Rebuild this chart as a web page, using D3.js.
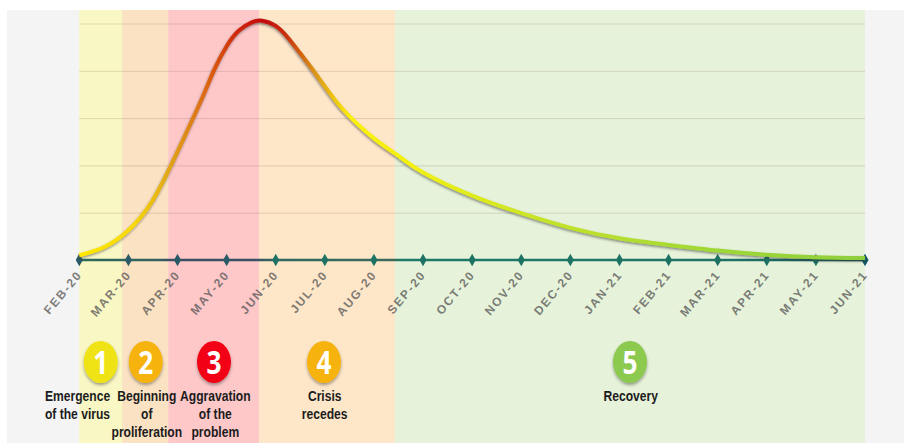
<!DOCTYPE html>
<html>
<head>
<meta charset="utf-8">
<script src="https://cdn.jsdelivr.net/npm/d3@7"></script>
<style>
body { margin: 0; background: #fff; }
svg { display: block; }
</style>
</head>
<body>
<svg id="drawing_region"></svg>
<script>
// data (month index, 0 = Feb-20)
const months = ["FEB-20","MAR-20","APR-20","MAY-20","JUN-20","JUL-20","AUG-20","SEP-20","OCT-20","NOV-20","DEC-20","JAN-21","FEB-21","MAR-21","APR-21","MAY-21","JUN-21"];
const gridValues = [1, 2, 3, 4, 5];
const curveMonth = [0, 0.5, 1, 1.5, 2, 2.5, 2.75, 3, 3.25, 3.5, 3.72, 4, 4.25, 4.5, 4.77, 5, 5.24, 5.5, 6, 6.5, 7, 8, 9, 10, 11, 12, 13, 14, 15, 16];
const curveValue = [0.1, 0.27, 0.63, 1.27, 2.29, 3.42, 4.03, 4.52, 4.85, 5.02, 5.06, 4.95, 4.7, 4.37, 4.0, 3.67, 3.34, 3.04, 2.57, 2.2, 1.85, 1.36, 0.99, 0.68, 0.46, 0.32, 0.2, 0.11, 0.06, 0.04];
const phaseStart = [0, 0.87, 1.81, 3.66, 6.43];
const phaseEnd = [0.87, 1.81, 3.66, 6.43, 16];
const phaseNumber = ["1", "2", "3", "4", "5"];
const phaseLabel = [
  ["Emergence", "of the virus"],
  ["Beginning", "of", "proliferation"],
  ["Aggravation", "of the", "problem"],
  ["Crisis", "recedes"],
  ["Recovery"]
];

// layout and styles
const width = 904, height = 443;
const margin = {top: 10, right: 39, bottom: 0, left: 79.3};
const baseY = 260, topGridY = 23.5;
const bandColor = ["#f9f7c4", "#fbe2c2", "#fec8c9", "#fee6c9", "#e6f2d9"];
const badgeColor = ["#efe312", "#f6b30f", "#f20012", "#f6b30f", "#8cca50"];
const badgeX = [100.7, 145.7, 214, 324, 630];
const labelX = [77.5, 146.8, 215.3, 324.7, 630.7];

const svg = d3.select('#drawing_region')
    .attr('width', width)
    .attr('height', height);

const xscale = d3.scaleLinear()
    .domain([0, months.length - 1])
    .range([margin.left, width - margin.right]);
const yscale = d3.scaleLinear()
    .domain([0, 5])
    .range([baseY, topGridY]);

const defs = svg.append('defs');

const shadow = defs.append('filter').attr('id', 'shadow')
    .attr('filterUnits', 'userSpaceOnUse')
    .attr('x', 0).attr('y', 0).attr('width', width).attr('height', height);
shadow.append('feDropShadow')
    .attr('dx', -0.5).attr('dy', 1.5).attr('stdDeviation', 1)
    .attr('flood-color', '#333').attr('flood-opacity', 0.55);

const badgeShadow = defs.append('filter').attr('id', 'badgeShadow')
    .attr('x', '-30%').attr('y', '-30%').attr('width', '160%').attr('height', '160%');
badgeShadow.append('feDropShadow')
    .attr('dx', 0).attr('dy', 2).attr('stdDeviation', 1.5)
    .attr('flood-color', '#333').attr('flood-opacity', 0.45);

// curve colour runs yellow -> red -> yellow -> green along x
const lineGrad = defs.append('linearGradient').attr('id', 'curveGrad')
    .attr('gradientUnits', 'userSpaceOnUse')
    .attr('x1', xscale(0)).attr('x2', xscale(16)).attr('y1', 0).attr('y2', 0);
[[0, '#ffe800'], [0.07, '#f6d80a'], [0.115, '#e0a515'], [0.16, '#dd6a12'], [0.2, '#d02a0a'], [0.235, '#c40a0a'], [0.265, '#c8350c'], [0.3, '#dc9515'], [0.345, '#fbef0a'], [0.43, '#f2f012'], [0.6, '#c4e22a'], [0.8, '#a0d836'], [1, '#8fce3c']]
  .forEach(s => lineGrad.append('stop').attr('offset', s[0]).attr('stop-color', s[1]));

// axis line picks up the band behind it
const axisGrad = defs.append('linearGradient').attr('id', 'axisGrad')
    .attr('gradientUnits', 'userSpaceOnUse')
    .attr('x1', xscale(0)).attr('x2', xscale(16)).attr('y1', 0).attr('y2', 0);
[[0, '#2c6a58'], [0.1, '#33605f'], [0.115, '#3a4f62'], [0.22, '#3a4f62'], [0.25, '#2f6a5f'], [0.4, '#3a6a5a'], [0.41, '#1f7a68'], [0.8, '#1f7566'], [1, '#145f60']]
  .forEach(s => axisGrad.append('stop').attr('offset', s[0]).attr('stop-color', s[1]));

// background panel and phase bands
svg.append('rect')
    .attr('x', 7).attr('y', margin.top)
    .attr('width', width - 7).attr('height', height - margin.top)
    .attr('fill', '#f4f4f4');

svg.append('g').selectAll('rect').data(phaseStart).enter()
    .append('rect')
    .attr('x', d => xscale(d))
    .attr('y', margin.top)
    .attr('width', (d, i) => xscale(phaseEnd[i]) - xscale(d))
    .attr('height', height - margin.top)
    .attr('fill', (d, i) => bandColor[i]);

// gridlines
const grid = svg.append('g')
    .attr('transform', `translate(${margin.left}, 0)`)
    .call(d3.axisLeft(yscale)
      .tickValues(gridValues)
      .tickSize(-(xscale(16) - xscale(0)))
      .tickFormat(''));
grid.select('.domain').remove();
grid.selectAll('line').attr('stroke', '#7a5a4a').attr('stroke-opacity', 0.2);

// x axis
const xaxis = svg.append('g')
    .attr('transform', `translate(0, ${baseY})`)
    .call(d3.axisBottom(xscale)
      .tickValues(d3.range(months.length))
      .tickSize(0)
      .tickFormat(i => months[i]));
xaxis.select('.domain').remove();
xaxis.selectAll('text')
    .attr('transform', 'translate(3, 15) rotate(-50)')
    .attr('text-anchor', 'end')
    .attr('x', 0)
    .attr('y', 0)
    .attr('dy', 0)
    .style('font-family', '"Liberation Sans", Arial, sans-serif')
    .style('font-size', '12px')
    .style('font-weight', 'bold')
    .style('letter-spacing', '1.8px')
    .attr('fill', '#555')
    .attr('fill-opacity', 0.75);

svg.append('line')
    .attr('x1', xscale(0)).attr('x2', xscale(16))
    .attr('y1', baseY + 0.01).attr('y2', baseY)
    .attr('stroke', 'url(#axisGrad)')
    .attr('stroke-width', 2.6);

svg.append('g').selectAll('path').data(months).enter()
    .append('path')
    .attr('d', d3.symbol(d3.symbolDiamond, 44))
    .attr('transform', (d, i) => `translate(${xscale(i)}, ${baseY})`)
    .attr('fill', (d, i) => i < 4 ? '#2a5a66' : (i < 16 ? '#1e7264' : '#145a66'));

// the curve
const line = d3.line()
    .x(d => xscale(d))
    .y((d, i) => yscale(curveValue[i]))
    .curve(d3.curveNatural);

svg.append('path')
    .attr('d', line(curveMonth))
    .attr('fill', 'none')
    .attr('stroke', 'url(#curveGrad)')
    .attr('stroke-width', 4)
    .attr('filter', 'url(#shadow)');

// numbered badges
const badges = svg.append('g').selectAll('g').data(phaseNumber).enter()
    .append('g')
    .attr('transform', (d, i) => `translate(${badgeX[i]}, 362)`);
badges.append('ellipse')
    .attr('rx', 17).attr('ry', 21)
    .attr('fill', (d, i) => badgeColor[i])
    .attr('filter', 'url(#badgeShadow)');
badges.append('text')
    .text(d => d)
    .attr('text-anchor', 'middle')
    .attr('transform', 'translate(0, 11.5) scale(0.82, 1)')
    .style('font-family', '"Open Sans", sans-serif')
    .style('font-size', '32px')
    .style('font-weight', 'bold')
    .attr('fill', '#fff');

// phase captions, squeezed to look like the narrow face in the original
phaseLabel.forEach((lines, i) => {
  svg.append('g').selectAll('text').data(lines).enter()
    .append('text')
    .attr('text-anchor', 'middle')
    .attr('transform', (d, j) => `translate(${labelX[i]}, ${401 + j * 18}) scale(0.865, 1)`)
    .style('font-family', '"Liberation Sans", sans-serif')
    .style('font-size', '14px')
    .style('font-weight', 'bold')
    .attr('fill', '#1c1c1c')
    .text(d => d);
});
</script>
</body>
</html>
